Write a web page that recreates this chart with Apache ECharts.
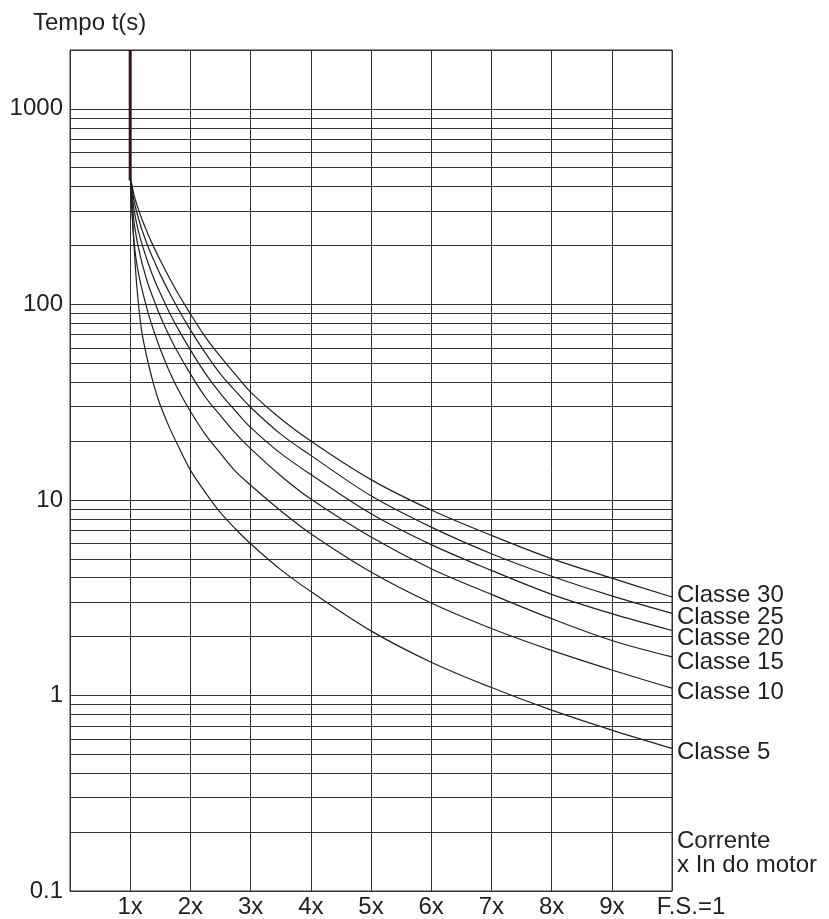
<!DOCTYPE html>
<html>
<head>
<meta charset="utf-8">
<script src="https://cdn.jsdelivr.net/npm/echarts@6/dist/echarts.min.js"></script>
<style>
html,body{margin:0;padding:0;background:#fff;}
#chart{width:829px;height:919px;}
</style>
</head>
<body>
<div id="chart"></div>
<script>
// ---- data ----
const xTickLabels = ['1x','2x','3x','4x','5x','6x','7x','8x','9x','F.S.=1'];
const yTickLabels = ['0.1','1','10','100','1000'];
const yTickValues = [0.1, 1, 10, 100, 1000];
const minorGridValues = [0.2,0.3,0.4,0.5,0.6,0.7,0.8,0.9, 2,3,4,5,6,7,8,9, 20,30,40,50,60,70,80,90, 200,300,400,500,600,700,800,900];
const classNames = ['Classe 30','Classe 25','Classe 20','Classe 15','Classe 10','Classe 5'];
const classe30 = [[1.01,430],[1.03,407],[1.06,366],[1.1,331],[1.15,298],[1.2,270],[1.3,227],[1.4,194],[1.5,168],[1.65,137],[1.8,113],[2,89.4],[2.25,68],[2.5,54],[2.75,43.7],[3,35.6],[3.5,26],[4,20],[5,12.7],[6,8.88],[7,6.59],[8,5.01],[9,3.98],[10,3.19]];
const classe25 = [[1.01,430],[1.03,393],[1.06,343],[1.1,303],[1.15,267],[1.2,238],[1.3,196],[1.4,166],[1.5,142],[1.65,115],[1.8,94.4],[2,74.1],[2.25,56.3],[2.5,44],[2.75,36],[3,29.8],[3.5,21.7],[4,16.9],[5,10.5],[6,7.26],[7,5.31],[8,4.07],[9,3.23],[10,2.63]];
const classe20 = [[1.01,430],[1.03,372],[1.06,311],[1.1,266],[1.15,228],[1.2,201],[1.3,162],[1.4,134],[1.5,114],[1.65,91],[1.8,74.5],[2,58.5],[2.25,44.3],[2.5,35],[2.75,28.5],[3,23.5],[3.5,17.3],[4,13.5],[5,8.5],[6,5.91],[7,4.36],[8,3.29],[9,2.62],[10,2.15]];
const classe15 = [[1.01,430],[1.03,343],[1.06,270],[1.1,223],[1.15,187],[1.2,161],[1.3,126],[1.4,104],[1.5,86.9],[1.65,69],[1.8,56.2],[2,44.1],[2.25,33.5],[2.5,27],[2.75,21.9],[3,18.3],[3.5,13.3],[4,10.1],[5,6.46],[6,4.45],[7,3.29],[8,2.47],[9,1.91],[10,1.574]];
const classe10 = [[1.01,430],[1.03,295],[1.06,215],[1.1,168],[1.15,138],[1.2,118],[1.3,90],[1.4,72],[1.5,59],[1.65,45.5],[1.8,36.5],[2,28.4],[2.25,21.6],[2.5,17.3],[2.75,14],[3,11.9],[3.5,8.8],[4,6.72],[5,4.28],[6,2.97],[7,2.2],[8,1.7],[9,1.35],[10,1.09]];
const classe5 = [[1.01,430],[1.03,310],[1.06,210],[1.1,135],[1.15,92],[1.2,70],[1.3,50],[1.4,38],[1.5,30.5],[1.65,23.5],[1.8,18.8],[2,14.2],[2.25,10.9],[2.5,8.6],[2.75,7.1],[3,5.97],[3.5,4.4],[4,3.4],[5,2.14],[6,1.48],[7,1.098],[8,0.841],[9,0.665],[10,0.536]];
const nearOneBand = [[1,2000],[1,430]];
const labelOffsets = [[0,-2],[0,4],[0,8],[0,5],[0,4],[0,4]];

const classData = [classe30, classe25, classe20, classe15, classe10, classe5];
const textColor = '#231f20';
const font = 'Liberation Sans, Arial, sans-serif';

const chart = echarts.init(document.getElementById('chart'));

const series = classData.map((d, i) => ({
  name: classNames[i],
  type: 'line',
  data: d,
  smooth: 0.35,
  symbol: 'none',
  silent: true,
  lineStyle: { color: textColor, width: 1.2 },
  endLabel: {
    show: true,
    formatter: classNames[i],
    color: textColor,
    fontSize: 24,
    fontFamily: font,
    distance: 5,
    offset: labelOffsets[i]
  },
  z: 5
}));

series.push({
  name: 'band',
  type: 'line',
  data: nearOneBand,
  symbol: 'none',
  silent: true,
  lineStyle: { color: '#3a1414', width: 3 },
  z: 6,
  markLine: {
    silent: true,
    symbol: 'none',
    label: { show: false },
    lineStyle: { color: '#333', width: 1, type: 'solid' },
    data: minorGridValues.map(v => ({ yAxis: v }))
  }
});

const option = {
  animation: false,
  backgroundColor: '#fff',
  title: {
    text: 'Tempo t(s)',
    left: 28,
    top: 6,
    textStyle: { fontSize: 24, fontWeight: 'normal', color: textColor, fontFamily: font }
  },
  grid: {
    left: 70, right: 157, top: 50, bottom: 28,
    show: true, borderColor: '#333', borderWidth: 1, backgroundColor: 'transparent'
  },
  xAxis: {
    type: 'value',
    min: 0, max: 10, interval: 1,
    axisLine: { show: true, lineStyle: { color: '#333' } },
    axisTick: { show: false },
    splitLine: { show: true, lineStyle: { color: '#333', width: 1 } },
    axisLabel: {
      margin: 4,
      color: textColor,
      fontSize: 24,
      fontFamily: font,
      showMinLabel: true,
      showMaxLabel: true,
      formatter: function (v) {
        const i = Math.round(v) - 1;
        if (i < 0 || i >= xTickLabels.length) return '';
        if (i === xTickLabels.length - 1) return '{fs|' + xTickLabels[i] + '}';
        return xTickLabels[i];
      },
      rich: { fs: { fontSize: 24, fontFamily: font, color: textColor, padding: [0, 0, 0, 38] } }
    }
  },
  yAxis: {
    type: 'log',
    logBase: 10,
    min: 0.1, max: 2000,
    axisLine: { show: true, lineStyle: { color: '#333' } },
    axisTick: { show: false },
    splitLine: { show: true, lineStyle: { color: '#333', width: 1 } },
    axisLabel: {
      margin: 7,
      color: textColor,
      fontSize: 24,
      fontFamily: font,
      formatter: function (v) {
        for (let k = 0; k < yTickValues.length; k++) {
          if (Math.abs(v - yTickValues[k]) / yTickValues[k] < 1e-6) return yTickLabels[k];
        }
        return '';
      }
    }
  },
  graphic: [
    { type: 'text', left: 677, top: 829, style: { text: 'Corrente', fill: textColor, fontSize: 24, fontFamily: font } },
    { type: 'text', left: 677, top: 853, style: { text: 'x In do motor', fill: textColor, fontSize: 24, fontFamily: font } }
  ],
  series: series
};
chart.setOption(option);
</script>
</body>
</html>
